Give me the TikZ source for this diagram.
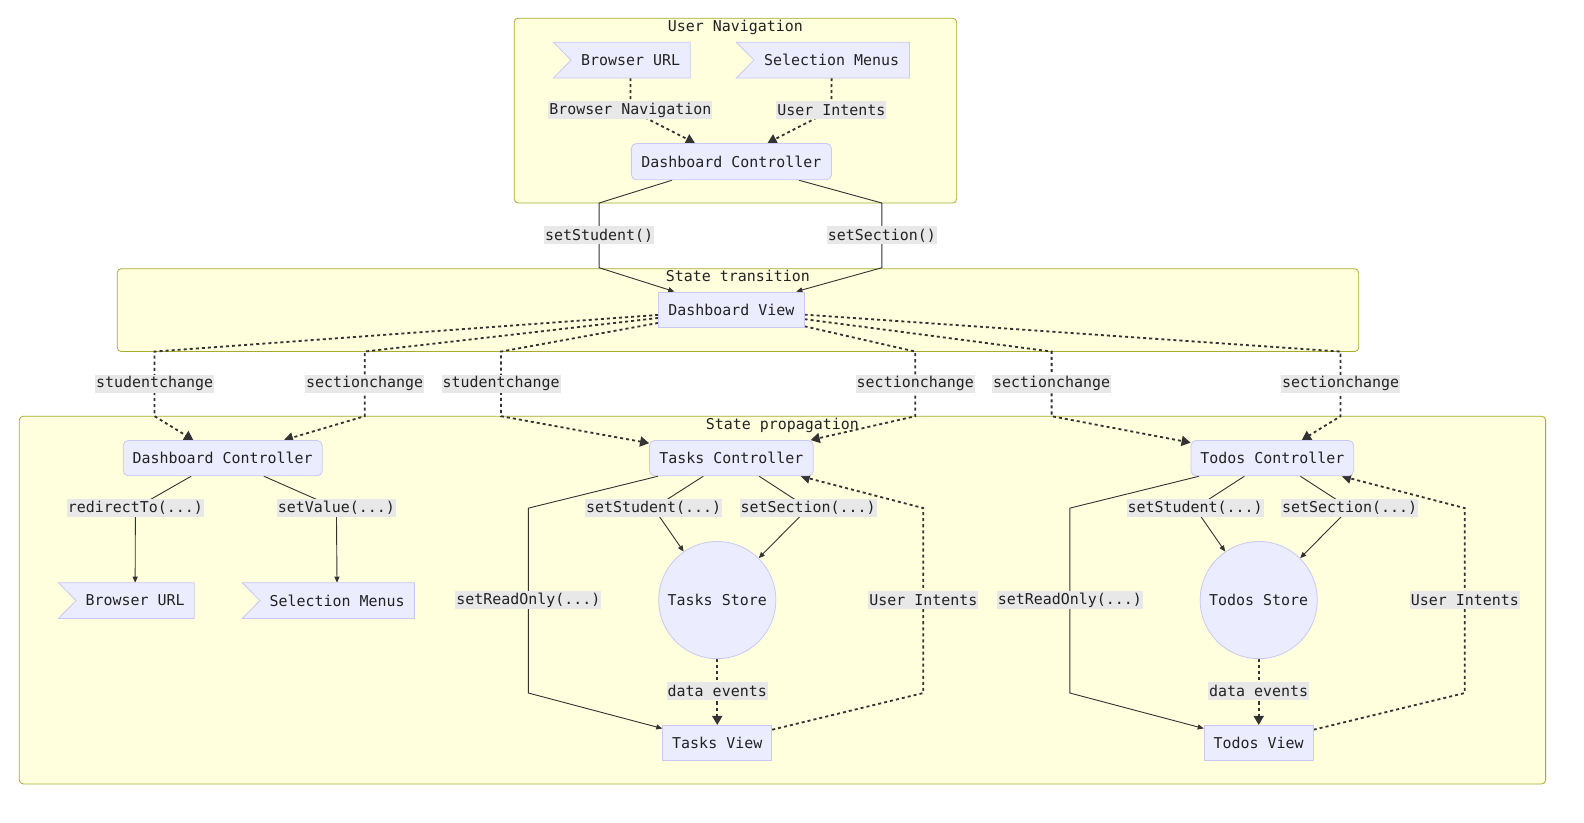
\documentclass[tikz,border=0pt]{standalone}
\usepackage{fontspec}
\newfontfamily\dmono{DejaVu Sans Mono}
\usetikzlibrary{calc,arrows.meta}
\definecolor{nodefill}{HTML}{ECECFF}
\definecolor{nodeline}{HTML}{C9C9F5}
\definecolor{clusterfill}{HTML}{FFFFDE}
\definecolor{clusterline}{HTML}{AAAA33}
\definecolor{labelfill}{HTML}{E8E8E8}
\definecolor{edgeline}{HTML}{333333}
\definecolor{ink}{HTML}{222222}
\pgfdeclarelayer{bg}
\pgfdeclarelayer{edges}
\pgfdeclarelayer{shapes}
\pgfsetlayers{bg,edges,shapes,main}

\tikzset{
  every node/.style={font=\dmono\fontsize{14.8}{17}\selectfont, text=ink},
  box/.style={draw=nodeline, fill=nodefill, line width=0.8pt, minimum height=35pt, inner sep=0pt},
  roundbox/.style={box, rounded corners=5pt},
  flagtext/.style={minimum height=35pt, inner sep=0pt},
  store/.style={circle, draw=nodeline, fill=nodefill, line width=0.8pt, minimum size=116pt, inner sep=0pt},
  elabel/.style={fill=labelfill, inner xsep=1pt, inner ysep=0pt, minimum height=18pt},
  cluster/.style={draw=clusterline, fill=clusterfill, line width=0.8pt, rounded corners=4pt},
  ctitle/.style={anchor=base},
  solidedge/.style={draw=edgeline, line width=0.9pt, -{Triangle[length=6pt,width=5pt]}},
  dotedge/.style={draw=edgeline, line width=1.8pt, dash pattern=on 3pt off 3pt, -{Triangle[length=9pt,width=10pt]}},
}
% box with an inward notch on its left side
\newcommand\flagshape[1]{%
  \draw[draw=nodeline, fill=nodefill, line width=0.8pt]
    ($(#1.north west)+(-17.5,0)$) -- (#1.north east) -- (#1.south east)
    -- ($(#1.south west)+(-17.5,0)$) -- (#1.west) -- cycle;}

\begin{document}
\begin{tikzpicture}[x=1pt,y=-1pt]
\useasboundingbox (0,0) rectangle (1568,814);

% clusters
\begin{pgfonlayer}{bg}
  \draw[cluster] (509,18) rectangle (947,201);
  \node[ctitle] (tNav) at (728,31) {User Navigation};
  \draw[cluster] (116,266) rectangle (1345,348);
  \node[ctitle] (tTrans) at (730.5,279) {State transition};
  \draw[cluster] (19,412) rectangle (1530,776);
  \node[ctitle] (tProp) at (774.5,425) {State propagation};
\end{pgfonlayer}

% nodes
\node[flagtext, minimum width=117.5pt] (burlA) at (624.3,59.5) {Browser URL};
\node[flagtext, minimum width=153.5pt] (menuA) at (823.3,59.5) {Selection Menus};
\node[roundbox, minimum width=198pt, minimum height=36pt] (dctlA) at (724,160) {Dashboard Controller};
\node[box, minimum width=144pt] (dview) at (724,306.5) {Dashboard View};
\node[roundbox, minimum width=197pt] (dctlB) at (220.5,453.5) {Dashboard Controller};
\node[flagtext, minimum width=116.5pt] (burlB) at (133.75,594.5) {Browser URL};
\node[flagtext, minimum width=152.5pt] (menuB) at (333.75,594.5) {Selection Menus};
\node[roundbox, minimum width=162pt] (tctl) at (724,453.5) {Tasks Controller};
\node[store] (tstore) at (710,594) {Tasks Store};
\node[box, minimum width=108pt] (tview) at (710,735.5) {Tasks View};
\node[roundbox, minimum width=161pt] (octl) at (1259.5,453.5) {Todos Controller};
\node[store] (ostore) at (1246,594) {Todos Store};
\node[box, minimum width=108pt] (oview) at (1246,735.5) {Todos View};

\begin{pgfonlayer}{shapes}
  \flagshape{burlA}
  \flagshape{menuA}
  \flagshape{burlB}
  \flagshape{menuB}
\end{pgfonlayer}

% edge labels
\node[elabel] (lNav) at (624,109) {Browser Navigation};
\node[elabel] (lUI) at (823,109) {User Intents};
\node[elabel] (lSS) at (593,233) {setStudent()};
\node[elabel] (lSC) at (873,233) {setSection()};
\node[elabel] (c1) at (153,380) {studentchange};
\node[elabel] (c2) at (361,380) {sectionchange};
\node[elabel] (c3) at (496,380) {studentchange};
\node[elabel] (c4) at (906,380) {sectionchange};
\node[elabel] (c5) at (1041,380) {sectionchange};
\node[elabel] (c6) at (1327,380) {sectionchange};
\node[elabel] (lRT) at (134,503) {redirectTo(...)};
\node[elabel] (lSV) at (333,503) {setValue(...)};
\node[elabel] (tSS) at (647,503) {setStudent(...)};
\node[elabel] (tSC) at (800,503) {setSection(...)};
\node[elabel] (tRO) at (523,594) {setReadOnly(...)};
\node[elabel] (tUI) at (914,594) {User Intents};
\node[elabel] (tDE) at (710,684) {data events};
\node[elabel] (oSS) at (1183,503) {setStudent(...)};
\node[elabel] (oSC) at (1336,503) {setSection(...)};
\node[elabel] (oRO) at (1059,594) {setReadOnly(...)};
\node[elabel] (oUI) at (1450,594) {User Intents};
\node[elabel] (oDE) at (1246,684) {data events};

% bend points
\coordinate (sA) at (593,201);  \coordinate (sB) at (593,265);
\coordinate (xA) at (873,201);  \coordinate (xB) at (873,265);
\coordinate (c1a) at (153,348); \coordinate (c1b) at (153,412);
\coordinate (c2a) at (361,348); \coordinate (c2b) at (361,412);
\coordinate (c3a) at (496,348); \coordinate (c3b) at (496,412);
\coordinate (c4a) at (906,348); \coordinate (c4b) at (906,412);
\coordinate (c5a) at (1041,348); \coordinate (c5b) at (1041,412);
\coordinate (c6a) at (1327,348); \coordinate (c6b) at (1327,412);
\coordinate (tRa) at (523,503); \coordinate (tRb) at (523,686);
\coordinate (tUa) at (914,686); \coordinate (tUb) at (914,503);
\coordinate (oRa) at (1059,503); \coordinate (oRb) at (1059,686);
\coordinate (oUa) at (1450,686); \coordinate (oUb) at (1450,503);

% connectors
\begin{pgfonlayer}{edges}
  \draw[dotedge] (burlA) -- (lNav.center) -- (dctlA);
  \draw[dotedge] (menuA) -- (lUI.center) -- (dctlA);
  \draw[solidedge] (dctlA) -- (sA) -- (sB) -- (dview);
  \draw[solidedge] (dctlA) -- (xA) -- (xB) -- (dview);

  \draw[dotedge] (dview) -- (c1a) -- (c1b) -- (dctlB);
  \draw[dotedge] (dview) -- (c2a) -- (c2b) -- (dctlB);
  \draw[dotedge] (dview) -- (c3a) -- (c3b) -- (tctl);
  \draw[dotedge] (dview) -- (c4a) -- (c4b) -- (tctl);
  \draw[dotedge] (dview) -- (c5a) -- (c5b) -- (octl);
  \draw[dotedge] (dview) -- (c6a) -- (c6b) -- (octl);

  \draw[solidedge] (dctlB) -- (lRT.center) -- (burlB);
  \draw[solidedge] (dctlB) -- (lSV.center) -- (menuB);

  \draw[solidedge] (tctl) -- (tSS.center) -- (tstore);
  \draw[solidedge] (tctl) -- (tSC.center) -- (tstore);
  \draw[solidedge] (tctl) -- (tRa) -- (tRb) -- (tview);
  \draw[dotedge] (tstore) -- (tview);
  \draw[dotedge] (tview) -- (tUa) -- (tUb) -- (tctl);

  \draw[solidedge] (octl) -- (oSS.center) -- (ostore);
  \draw[solidedge] (octl) -- (oSC.center) -- (ostore);
  \draw[solidedge] (octl) -- (oRa) -- (oRb) -- (oview);
  \draw[dotedge] (ostore) -- (oview);
  \draw[dotedge] (oview) -- (oUa) -- (oUb) -- (octl);
\end{pgfonlayer}
\end{tikzpicture}
\end{document}
